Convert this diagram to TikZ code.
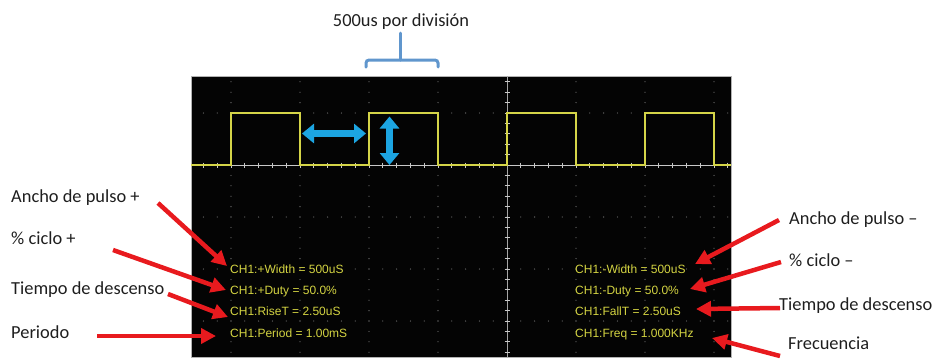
\documentclass[tikz,border=0pt]{standalone}
\usepackage{fontspec}
\setmainfont{Carlito}
\newfontfamily\scrfont{Liberation Sans}
\usetikzlibrary{arrows.meta}
\definecolor{scrblack}{RGB}{4,4,4}
\definecolor{wave}{RGB}{212,212,72}
\definecolor{ytext}{RGB}{212,212,66}
\definecolor{redarr}{RGB}{232,26,30}
\definecolor{cyanarr}{RGB}{28,165,226}
\definecolor{bracketblue}{RGB}{96,150,205}
\definecolor{griddot}{RGB}{105,105,105}
\definecolor{axisgray}{RGB}{200,200,200}
\definecolor{labeltext}{RGB}{30,30,30}
\begin{document}
\begin{tikzpicture}[x=1pt,y=-1pt,
  lbl/.style={font=\fontsize{18.4}{22}\selectfont, inner sep=0pt, anchor=base west, text=labeltext},
  meas/.style={font=\scrfont\fontsize{12}{14}\selectfont, text=ytext, inner sep=0pt, anchor=base west},
  redarrow/.style={draw=redarr, line width=4.5pt, -{Triangle[length=15pt,width=15pt]}},
  bluearrow/.style={draw=cyanarr, line width=7pt, {Triangle[length=12pt,width=19pt]}-{Triangle[length=12pt,width=19pt]}},
  bracket/.style={draw=bracketblue, line width=3pt, line cap=round},
  wavepath/.style={draw=wave, line width=1.4pt, line join=miter},
]
\useasboundingbox (0,0) rectangle (944,360);
% screen
\node[fill=scrblack, draw=gray!60, line width=0.6pt, inner sep=0pt, minimum width=540pt, minimum height=281pt, anchor=north west] (screen) at (191,76) {};
% dotted vertical grid
\foreach \x in {231,300,369,438,576,645,714}{
  \foreach \k in {0,...,26}{
    \fill[griddot] (\x,{81.8+\k*10.4}) circle (0.65pt);
  }
}
% dotted horizontal grid
\foreach \y in {113,217,269,321}{
  \foreach \k in {0,...,38}{
    \fill[griddot] ({203.4+\k*13.8},\y) circle (0.65pt);
  }
}
% axes
\draw[axisgray, line width=1pt] (191,165) -- (731,165);
\foreach \k in {0,...,38}{
  \draw[axisgray, line width=0.8pt] ({203.4+\k*13.8},162.5) -- ({203.4+\k*13.8},167.5);
}
\draw[gray!70, line width=0.6pt] (507,76) -- (507,357);
\foreach \k in {0,...,26}{
  \draw[axisgray, line width=0.8pt] (504.5,{81.8+\k*10.4}) -- (509.5,{81.8+\k*10.4});
}
% waveform
\draw[wavepath] (191,165) -- (231,165) -- (231,113) -- (300,113) -- (300,165)
  -- (369,165) -- (369,113) -- (438,113) -- (438,165) -- (507,165) -- (507,113)
  -- (576,113) -- (576,165) -- (645,165) -- (645,113) -- (714,113) -- (714,165) -- (731,165);
% title and bracket
\node[lbl, anchor=base] (title) at (401,26) {500us por división};
\coordinate (stemtop) at (400,33);
\coordinate (stembot) at (400,60);
\draw[bracket] (stemtop) -- (stembot);
\draw[bracket, rounded corners=3pt] (366,67) -- (366,60) -- (438,60) -- (438,67);
% blue arrows
\coordinate (hL) at (302,133.5);
\coordinate (hR) at (366,133.5);
\coordinate (vT) at (389.5,116.5);
\coordinate (vB) at (389.5,165);
\draw[bluearrow] (hL) -- (hR);
\draw[bluearrow] (vT) -- (vB);
% measurements
\node[meas] (mpw) at (230,273.5) {CH1:+Width = 500uS};
\node[meas] (mpd) at (230,294.5) {CH1:+Duty = 50.0\%};
\node[meas] (mrt) at (230,315.5) {CH1:RiseT = 2.50uS};
\node[meas] (mper) at (230,337.5) {CH1:Period = 1.00mS};
\node[meas] (mnw) at (575,273.5) {CH1:-Width = 500uS};
\node[meas] (mnd) at (575,294.5) {CH1:-Duty = 50.0\%};
\node[meas] (mft) at (575,315.5) {CH1:FallT = 2.50uS};
\node[meas] (mfr) at (575,337.5) {CH1:Freq = 1.000KHz};
% labels
\node[lbl] (lw) at (11,202) {Ancho de pulso +};
\node[lbl] (ld) at (11,244) {\% ciclo +};
\node[lbl] (lr) at (11,294) {Tiempo de descenso};
\node[lbl] (lp) at (11,338) {Periodo};
\node[lbl] (rw) at (789,224) {Ancho de pulso –};
\node[lbl] (rd) at (789,266) {\% ciclo –};
\node[lbl] (rf) at (779,310) {Tiempo de descenso};
\node[lbl] (rq) at (788,349) {Frecuencia};
% red arrows
\coordinate (a1s) at (158,203);  \coordinate (a1t) at (227,266);
\coordinate (a2s) at (113,250);  \coordinate (a2t) at (226,290);
\coordinate (a3s) at (168,294);  \coordinate (a3t) at (228,317);
\coordinate (a4s) at (97,336);   \coordinate (a4t) at (216,336);
\coordinate (b1s) at (779,220);  \coordinate (b1t) at (695,264);
\coordinate (b2s) at (781,262);  \coordinate (b2t) at (690,289);
\coordinate (b3s) at (780,308);  \coordinate (b3t) at (696,309);
\coordinate (b4s) at (780,356);  \coordinate (b4t) at (712,338);
\foreach \s/\t in {a1s/a1t,a2s/a2t,a3s/a3t,a4s/a4t,b1s/b1t,b2s/b2t,b3s/b3t,b4s/b4t}{
  \draw[redarrow] (\s) -- (\t);
}
\end{tikzpicture}
\end{document}
